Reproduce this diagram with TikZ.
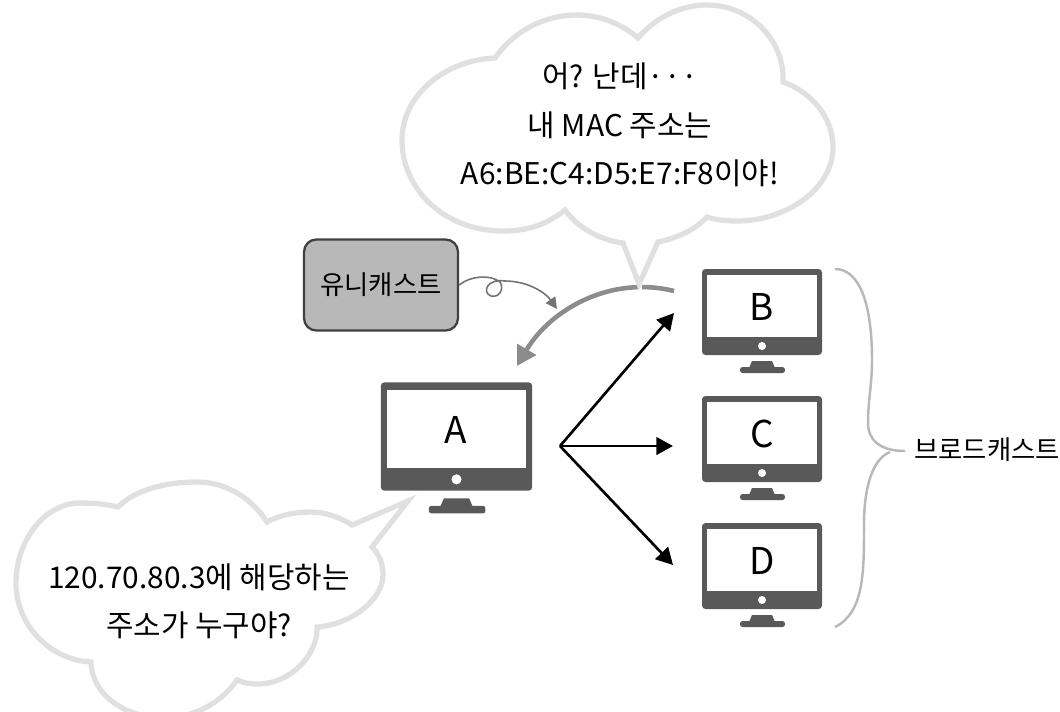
\documentclass[tikz,border=0pt]{standalone}
\usepackage{fontspec}
\setmainfont{Noto Sans CJK KR}
\usepackage{xcolor}
\usetikzlibrary{arrows.meta, positioning, calc}
\definecolor{monitorgray}{HTML}{595959}
\definecolor{bracegray}{HTML}{B8B8B8}
\tikzset{
  cloudshape/.style={
    draw=black!12,
    line width=3pt,
    line join=miter
  },
  cloudtext/.style={
    align=center,
    text=black,
    font=\fontsize{17}{27.5}\selectfont
  },
  hostlabel/.style={
    font=\fontsize{21}{21}\selectfont
  },
  castbox/.style={
    rectangle,
    rounded corners=7pt,
    draw=black!75,
    line width=1.3pt,
    fill=black!28,
    minimum width=154*0.569pt,
    minimum height=91*0.569pt,
    inner sep=0pt,
    font=\fontsize{15}{15}\selectfont
  },
  sendarrow/.style={
    line width=1.5pt,
    -{Triangle[length=9.5pt, width=10pt]}
  },
  replyarrow/.style={
    line width=2.6pt,
    black!45,
    -{Triangle[length=11pt, width=12pt]}
  },
  notearrow/.style={
    line width=0.9pt,
    black!55,
    -{Triangle[length=6.5pt, width=6.5pt]}
  },
  brace/.style={
    line width=1.4pt,
    bracegray
  },
  monitor/.pic={
    \fill[monitorgray, rounded corners=2pt] (-60,-43) rectangle (60,43);
    \fill[white] (-55,-37) rectangle (55,25);
    \fill[white] (0,34) circle (4);
    \fill[monitorgray] (-10,49) -- (10,49) -- (13,56) -- (-13,56) -- cycle;
    \fill[monitorgray, rounded corners=1.5pt] (-22,55) rectangle (23,61);
  }
}

\begin{document}
\begin{tikzpicture}[x=0.02cm, y=-0.02cm]
  \useasboundingbox (0,0) rectangle (1060,711);
  \clip (0,0) rectangle (1060,711);

  % --- MONITORS ---
  \pic (monA) [scale=1.26] at (456.5,436.5) {monitor};
  \pic (monB) at (762,312) {monitor};
  \pic (monC) at (762,439) {monitor};
  \pic (monD) at (762,566) {monitor};
  \node (A) [hostlabel] at (456,430) {A};
  \node (B) [hostlabel] at (762,307) {B};
  \node (C) [hostlabel] at (762,434) {C};
  \node (D) [hostlabel] at (762,561) {D};

  % --- BROADCAST ---
  \coordinate (hub) at (560,446);
  \coordinate (tipB) at (674,313);
  \coordinate (tipC) at (673,446);
  \coordinate (tipD) at (673,565);
  \draw[sendarrow] (hub) -- (tipB);
  \draw[sendarrow] (hub) -- (tipC);
  \draw[sendarrow] (hub) -- (tipD);

  % --- UNICAST ---
  \coordinate (replyStart) at (674,291);
  \coordinate (replyEnd) at (517,366);
  \coordinate (noteEnd) at (557,309);
  \draw[replyarrow] (replyStart) .. controls (610,275) and (550,310) .. (replyEnd);
  \node (unicast) [castbox] at (381,285) {유니캐스트};
  \draw[notearrow] (unicast.east) .. controls (470,276) and (490,274) .. (500,282)
    .. controls (505,290) and (498,298) .. (491,296)
    .. controls (481,292) and (488,278) .. (505,281)
    .. controls (527,281) and (545,292) .. (noteEnd);

  % --- CLOUDS ---
  \draw[white, line width=2pt] (640,278) -- (640,297);
  \draw[cloudshape] (639,284) -- (623,243)
    .. controls (600,240) and (578,228) .. (565,210)
    .. controls (545,226) and (525,231) .. (503,231)
    .. controls (445,231) and (402,190) .. (402,140)
    .. controls (402,95) and (445,60) .. (495,58)
    .. controls (515,30) and (545,15) .. (577,15)
    .. controls (600,15) and (622,24) .. (638,38)
    .. controls (655,18) and (680,5) .. (707,5)
    .. controls (750,5) and (785,40) .. (783,82)
    .. controls (812,92) and (833,118) .. (833,147)
    .. controls (833,190) and (785,221) .. (737,221)
    .. controls (726,221) and (716,220) .. (707,217)
    .. controls (695,230) and (677,238) .. (658,242)
    -- cycle;
  \draw[cloudshape] (408,501) -- (372,547)
    .. controls (380,555) and (383,565) .. (383,575)
    .. controls (383,600) and (350,625) .. (317,627)
    .. controls (318,655) and (290,684) .. (258,684)
    .. controls (250,684) and (244,683) .. (237,680)
    .. controls (220,705) and (190,718) .. (165,718)
    .. controls (125,718) and (92,695) .. (91,662)
    .. controls (50,660) and (16,625) .. (16,583)
    .. controls (16,540) and (45,503) .. (80,503)
    .. controls (93,503) and (106,504) .. (118,507)
    .. controls (135,490) and (165,482) .. (197,482)
    .. controls (228,482) and (253,500) .. (267,522)
    .. controls (280,515) and (295,512) .. (310,512)
    .. controls (325,512) and (340,517) .. (352,525)
    -- cycle;
  \node (replyText) [cloudtext] at (620,125) {어? 난데···\\내 MAC 주소는\\A6:BE:C4:D5:E7:F8이야!};
  \node (askText) [cloudtext] at (199,601) {120.70.80.3에 해당하는\\주소가 누구야?};

  % Brace
  \draw[brace] (835,269) .. controls (858,269) and (872,300) .. (872,360)
    .. controls (872,385) and (868,400) .. (868,423)
    .. controls (868,440) and (880,451) .. (905,451);
  \draw[brace] (890,452) .. controls (875,458) and (865,480) .. (864,520)
    .. controls (864,570) and (865,612) .. (835,627);
  \node (broadcast) [font=\fontsize{15}{15}\selectfont] at (987,450) {브로드캐스트};

\end{tikzpicture}
\end{document}
